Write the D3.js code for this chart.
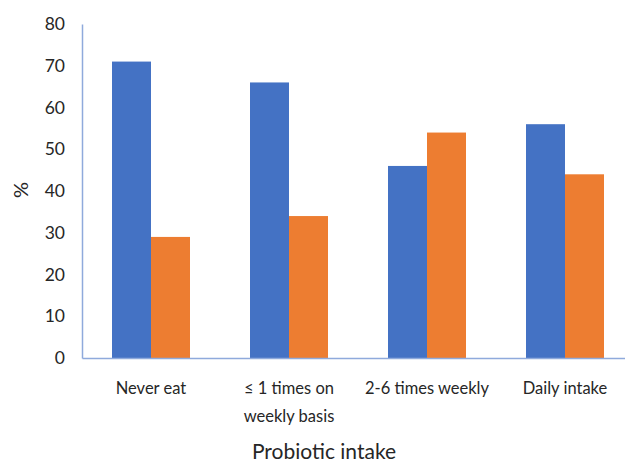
<!DOCTYPE html>
<html>
<head>
<meta charset="utf-8">
<script src="https://cdn.jsdelivr.net/npm/d3@7"></script>
<style>
  body { margin: 0; background: #fff; }
  svg text { font-family: Lato, "Open Sans", sans-serif; fill: #262626; }
</style>
</head>
<body>
<div id="chart"></div>
<script>
var categories = ["Never eat", "\u2264 1 times on|weekly basis", "2-6 times weekly", "Daily intake"];
var seriesA = [71, 66, 46, 56];
var seriesB = [29, 34, 54, 44];
var yTicks = [0, 10, 20, 30, 40, 50, 60, 70, 80];

var width = 625, height = 464;
var margin = { top: 24, left: 82, bottom: 106 };
var bandW = 138;

var svg = d3.select("#chart").append("svg")
    .attr("width", width)
    .attr("height", height);

var x = d3.scaleBand()
    .domain(categories)
    .range([margin.left, margin.left + bandW * categories.length])
    .paddingInner(0)
    .paddingOuter(0);

var y = d3.scaleLinear()
    .domain([0, 80])
    .range([height - margin.bottom, margin.top]);

var barW = 39;

// bars
var groups = svg.selectAll(".grp")
    .data(categories)
    .enter().append("g");

groups.append("rect")
    .attr("x", function (d) { return x(d) + x.bandwidth() / 2 - barW; })
    .attr("y", function (d, i) { return y(seriesA[i]); })
    .attr("width", barW)
    .attr("height", function (d, i) { return y(0) - y(seriesA[i]); })
    .attr("fill", "#4472c4");

groups.append("rect")
    .attr("x", function (d) { return x(d) + x.bandwidth() / 2; })
    .attr("y", function (d, i) { return y(seriesB[i]); })
    .attr("width", barW)
    .attr("height", function (d, i) { return y(0) - y(seriesB[i]); })
    .attr("fill", "#ed7d31");

// y axis
var yAxis = d3.axisLeft(y).tickValues(yTicks).tickSize(0).tickPadding(17);
var gy = svg.append("g")
    .attr("transform", "translate(" + margin.left + ",0)")
    .call(yAxis);
gy.select(".domain").attr("stroke", "#8faadc").attr("stroke-width", 1.5);
gy.selectAll("text").style("font-size", "17.5px").style("font-family", "Lato, sans-serif").attr("fill", "#262626");

// x axis
var xAxis = d3.axisBottom(x).tickSize(0).tickFormat("");
var gx = svg.append("g")
    .attr("transform", "translate(0," + y(0) + ")")
    .call(xAxis);
gx.select(".domain").attr("stroke", "#8faadc").attr("stroke-width", 1.5);

// category labels (multi-line)
svg.selectAll(".cat")
    .data(categories)
    .enter().append("text")
    .attr("text-anchor", "middle")
    .style("font-size", "16.5px")
    .each(function (d) {
        var lines = d.split("|");
        var t = d3.select(this);
        lines.forEach(function (l, i) {
            t.append("tspan")
                .attr("x", x(d) + x.bandwidth() / 2)
                .attr("y", 394 + i * 28)
                .text(l);
        });
    });

// axis titles
svg.append("text")
    .attr("transform", "translate(28," + 190 + ") rotate(-90)")
    .attr("text-anchor", "middle")
    .style("font-size", "20px")
    .text("%");

svg.append("text")
    .attr("x", 324)
    .attr("y", 459)
    .attr("text-anchor", "middle")
    .style("font-size", "21px")
    .text("Probiotic intake");
</script>
</body>
</html>
